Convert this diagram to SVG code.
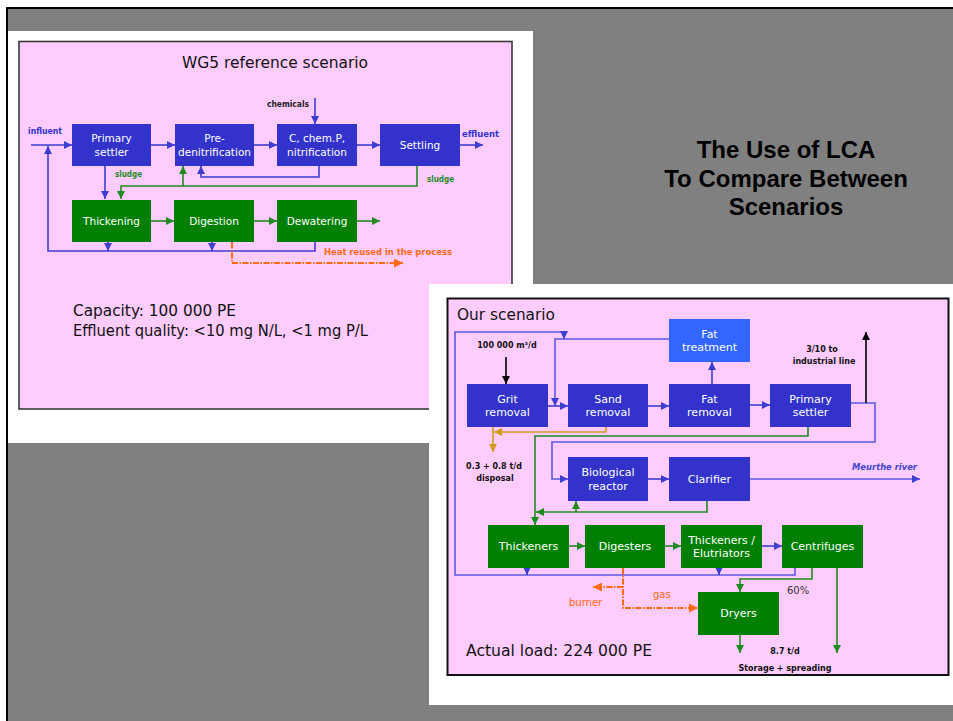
<svg xmlns="http://www.w3.org/2000/svg" width="953" height="721" viewBox="0 0 953 721">
  <style>
    .blk{fill:#3333cc}
    .fat{fill:#3366ff}
    .grn{fill:#007f00}
    .bt{font-family:"DejaVu Sans",sans-serif;fill:#ffffff;text-anchor:middle}
    .b1{font-size:10.5px}
    .b2{font-size:11px}
    .sm{font-family:"DejaVu Sans",sans-serif;font-size:8px;font-weight:bold}
    .big{font-family:"DejaVu Sans",sans-serif;fill:#111111}
    .c{fill:none;stroke-width:1.6}
    .cb{stroke:#3d3dcf}
    .cl{stroke:#5a5adc}
    .cg{stroke:#1f8a1f}
    .co{stroke:#ff6a13;stroke-width:2;stroke-dasharray:6 1.5 1.5 1.5}
    .ck{stroke:#000000}
    .cy{stroke:#d19a1a}
  </style>
  <defs>
    <marker id="ab" viewBox="0 0 10 10" refX="10" refY="5" markerWidth="8" markerHeight="8" markerUnits="userSpaceOnUse" orient="auto"><path d="M0,0 L10,5 L0,10z" fill="#3d3dcf"/></marker>
    <marker id="ag" viewBox="0 0 10 10" refX="10" refY="5" markerWidth="8" markerHeight="8" markerUnits="userSpaceOnUse" orient="auto"><path d="M0,0 L10,5 L0,10z" fill="#1f8a1f"/></marker>
    <marker id="ao" viewBox="0 0 10 10" refX="10" refY="5" markerWidth="9" markerHeight="9" markerUnits="userSpaceOnUse" orient="auto"><path d="M0,0 L10,5 L0,10z" fill="#ff6a13"/></marker>
    <marker id="ak" viewBox="0 0 10 10" refX="10" refY="5" markerWidth="8" markerHeight="8" markerUnits="userSpaceOnUse" orient="auto"><path d="M0,0 L10,5 L0,10z" fill="#000000"/></marker>
    <marker id="ay" viewBox="0 0 10 10" refX="10" refY="5" markerWidth="8" markerHeight="8" markerUnits="userSpaceOnUse" orient="auto"><path d="M0,0 L10,5 L0,10z" fill="#d19a1a"/></marker>
  </defs>

  <!-- slide background -->
  <rect x="0" y="0" width="953" height="721" fill="#ffffff"/>
  <rect x="7" y="8" width="950" height="720" fill="#808080" stroke="#000000" stroke-width="2"/>

  <!-- heading -->
  <g id="heading" font-family="'Liberation Sans',Arial,sans-serif" font-weight="bold" font-size="24" text-anchor="middle" fill="#000000">
    <text x="786" y="158">The Use of LCA</text>
    <text x="786" y="187">To Compare Between</text>
    <text x="786" y="215">Scenarios</text>
  </g>

  <!-- ===== reference scenario panel ===== -->
  <g id="panel-ref">
    <rect x="8" y="31" width="525" height="412" fill="#ffffff"/>
    <rect x="19" y="41.5" width="493" height="367.5" fill="#ffccff" stroke="#3a3a3a" stroke-width="1.6"/>
    <text class="big" x="182" y="68" font-size="16" textLength="186" lengthAdjust="spacingAndGlyphs">WG5 reference scenario</text>
    <text class="big" x="73" y="316" font-size="15.5" textLength="163" lengthAdjust="spacingAndGlyphs">Capacity: 100 000 PE</text>
    <text class="big" x="73" y="336" font-size="15.5" textLength="295" lengthAdjust="spacingAndGlyphs">Effluent quality: &lt;10 mg N/L, &lt;1 mg P/L</text>
    <text class="sm" x="28" y="134" fill="#3333cc" textLength="34" lengthAdjust="spacingAndGlyphs">influent</text>
    <text class="sm" x="462" y="137" fill="#3333cc" textLength="37" lengthAdjust="spacingAndGlyphs">effluent</text>
    <text class="sm" x="267" y="107" fill="#222222" textLength="42" lengthAdjust="spacingAndGlyphs">chemicals</text>
    <text class="sm" x="115" y="177" fill="#1f8a1f" textLength="27" lengthAdjust="spacingAndGlyphs">sludge</text>
    <text class="sm" x="427" y="182" fill="#1f8a1f" textLength="27" lengthAdjust="spacingAndGlyphs">sludge</text>
    <text class="sm" x="324" y="255" fill="#ff6a13" textLength="128" lengthAdjust="spacingAndGlyphs">Heat reused in the process</text>
  </g>

  <g id="ref-connectors">
    <path class="c cb" d="M31,145 H72" marker-end="url(#ab)"/>
    <path class="c cb" d="M315,242 V251 H48 V146" marker-end="url(#ab)"/>
    <path class="c cb" d="M108,242 V251" marker-end="url(#ab)"/>
    <path class="c cb" d="M212,242 V251" marker-end="url(#ab)"/>
    <path class="c cb" d="M151,145 H175" marker-end="url(#ab)"/>
    <path class="c cb" d="M254,145 H277" marker-end="url(#ab)"/>
    <path class="c cb" d="M357,145 H380" marker-end="url(#ab)"/>
    <path class="c cb" d="M460,145 H483" marker-end="url(#ab)"/>
    <path class="c cb" d="M315,98 V124" marker-end="url(#ab)"/>
    <path class="c cb" d="M319,166 V177 H201 V166" marker-end="url(#ab)"/>
    <path class="c cb" d="M105,166 V199" marker-end="url(#ab)"/>
    <path class="c cg" d="M417,166 V186 H121 V199" marker-end="url(#ag)"/>
    <path class="c cg" d="M183,186 V166" marker-end="url(#ag)"/>
    <path class="c cg" d="M151,221 H174" marker-end="url(#ag)"/>
    <path class="c cg" d="M254,221 H277" marker-end="url(#ag)"/>
    <path class="c cg" d="M357,221 H380" marker-end="url(#ag)"/>
    <path class="c co" d="M232,242 V263 H403" marker-end="url(#ao)"/>
  </g>

  <g id="primary-settler-ref"><rect class="blk" x="72" y="124" width="79" height="42"/><text class="bt b1" x="111.5" y="142">Primary</text><text class="bt b1" x="111.5" y="155.5">settler</text></g>
  <g id="pre-denitrification"><rect class="blk" x="175" y="124" width="79" height="42"/><text class="bt b1" x="214.5" y="142">Pre-</text><text class="bt b1" x="214.5" y="155.5">denitrification</text></g>
  <g id="nitrification"><rect class="blk" x="277" y="124" width="80" height="42"/><text class="bt b1" x="317" y="142">C, chem.P,</text><text class="bt b1" x="317" y="155.5">nitrification</text></g>
  <g id="settling"><rect class="blk" x="380" y="124" width="80" height="42"/><text class="bt b1" x="420" y="149">Settling</text></g>
  <g id="thickening"><rect class="grn" x="72" y="200" width="79" height="42"/><text class="bt b1" x="111.5" y="225">Thickening</text></g>
  <g id="digestion"><rect class="grn" x="174" y="200" width="80" height="42"/><text class="bt b1" x="214" y="225">Digestion</text></g>
  <g id="dewatering"><rect class="grn" x="277" y="200" width="80" height="42"/><text class="bt b1" x="317" y="225">Dewatering</text></g>

  <!-- ===== our scenario panel ===== -->
  <g id="panel-ours">
    <rect x="429" y="284" width="524" height="421" fill="#ffffff"/>
    <rect x="447.5" y="298.5" width="501" height="376.5" fill="#ffccff" stroke="#111111" stroke-width="2"/>
    <text class="big" x="457" y="320" font-size="16" textLength="98" lengthAdjust="spacingAndGlyphs">Our scenario</text>
    <text class="big" x="466" y="656" font-size="16" textLength="186" lengthAdjust="spacingAndGlyphs">Actual load: 224 000 PE</text>
    <g class="sm" fill="#111111" text-anchor="middle">
      <text x="507" y="348">100 000 m³/d</text>
      <text x="822" y="352">3/10 to</text>
      <text x="824" y="364">industrial line</text>
      <text x="494" y="469">0.3 + 0.8 t/d</text>
      <text x="495" y="481">disposal</text>
      <text x="785" y="654">8.7 t/d</text>
      <text x="785" y="671">Storage + spreading</text>
    </g>
    <text x="787" y="594" font-family="'DejaVu Sans',sans-serif" font-size="10" fill="#333333">60%</text>
    <text x="653" y="598" font-family="'DejaVu Sans',sans-serif" font-size="10" fill="#ff6a13">gas</text>
    <text x="569" y="606" font-family="'DejaVu Sans',sans-serif" font-size="10" fill="#ff6a13">burner</text>
    <text x="852" y="470" font-family="'DejaVu Sans',sans-serif" font-size="9" font-style="italic" font-weight="bold" fill="#4444cc" textLength="65" lengthAdjust="spacingAndGlyphs">Meurthe river</text>
  </g>

  <g id="our-connectors">
    <path class="c cl" d="M795,568 V575 H455 V332 H564 V339" marker-end="url(#ab)"/>
    <path class="c cb" d="M527,558 V575" marker-end="url(#ab)"/>
    <path class="c cb" d="M719,559 V575" marker-end="url(#ab)"/>
    <path class="c cl" d="M669,339 H555 V406" marker-end="url(#ab)"/>
    <path class="c cb" d="M548,406 H568" marker-end="url(#ab)"/>
    <path class="c cb" d="M648,406 H669" marker-end="url(#ab)"/>
    <path class="c cb" d="M750,405 H770" marker-end="url(#ab)"/>
    <path class="c cb" d="M712,384 V362" marker-end="url(#ab)"/>
    <path class="c cl" d="M851,403 H875 V442 H552 V479 H568" marker-end="url(#ab)"/>
    <path class="c cb" d="M648,479 H669" marker-end="url(#ab)"/>
    <path class="c cl" d="M750,479 H920" marker-end="url(#ab)"/>
    <path class="c cb" d="M762,546 H782" marker-end="url(#ab)"/>
    <path class="c ck" d="M506,357 V384" marker-end="url(#ak)"/>
    <path class="c ck" d="M866,403 V332" marker-end="url(#ak)"/>
    <path class="c cy" d="M606,427 V432 H494" marker-end="url(#ay)"/>
    <path class="c cy" d="M493,427 V452" marker-end="url(#ay)"/>
    <path class="c cg" d="M808,427 V436 H535 V525" marker-end="url(#ag)"/>
    <path class="c cg" d="M707,501 V512 H536" marker-end="url(#ag)"/>
    <path class="c cg" d="M576,512 V501" marker-end="url(#ag)"/>
    <path class="c cg" d="M569,546 H585" marker-end="url(#ag)"/>
    <path class="c cg" d="M665,546 H681" marker-end="url(#ag)"/>
    <path class="c cg" d="M812,568 V579 H740 V592" marker-end="url(#ag)"/>
    <path class="c cg" d="M837,568 V653" marker-end="url(#ag)"/>
    <path class="c cg" d="M740,635 V653" marker-end="url(#ag)"/>
    <path class="c co" d="M623,568 V608 H698" marker-end="url(#ao)"/>
    <path class="c co" d="M623,587 H593" marker-end="url(#ao)"/>
  </g>

  <g id="grit-removal"><rect class="blk" x="467" y="384" width="81" height="43"/><text class="bt b2" x="507.5" y="402.5">Grit</text><text class="bt b2" x="507.5" y="416">removal</text></g>
  <g id="sand-removal"><rect class="blk" x="568" y="384" width="80" height="43"/><text class="bt b2" x="608" y="402.5">Sand</text><text class="bt b2" x="608" y="416">removal</text></g>
  <g id="fat-removal"><rect class="blk" x="669" y="384" width="81" height="43"/><text class="bt b2" x="709.5" y="402.5">Fat</text><text class="bt b2" x="709.5" y="416">removal</text></g>
  <g id="primary-settler"><rect class="blk" x="770" y="384" width="81" height="43"/><text class="bt b2" x="810.5" y="402.5">Primary</text><text class="bt b2" x="810.5" y="416">settler</text></g>
  <g id="fat-treatment"><rect class="fat" x="669" y="319" width="81" height="43"/><text class="bt b2" x="709.5" y="337.5">Fat</text><text class="bt b2" x="709.5" y="351">treatment</text></g>
  <g id="biological-reactor"><rect class="blk" x="568" y="457" width="80" height="44"/><text class="bt b2" x="608" y="476">Biological</text><text class="bt b2" x="608" y="489.5">reactor</text></g>
  <g id="clarifier"><rect class="blk" x="669" y="457" width="81" height="44"/><text class="bt b2" x="709.5" y="483">Clarifier</text></g>
  <g id="thickeners"><rect class="grn" x="488" y="525" width="81" height="43"/><text class="bt b2" x="528.5" y="550">Thickeners</text></g>
  <g id="digesters"><rect class="grn" x="585" y="525" width="80" height="43"/><text class="bt b2" x="625" y="550">Digesters</text></g>
  <g id="thickeners-elutriators"><rect class="grn" x="681" y="525" width="81" height="43"/><text class="bt b2" x="721.5" y="543.5">Thickeners /</text><text class="bt b2" x="721.5" y="557">Elutriators</text></g>
  <g id="centrifuges"><rect class="grn" x="782" y="525" width="81" height="43"/><text class="bt b2" x="822.5" y="550">Centrifuges</text></g>
  <g id="dryers"><rect class="grn" x="698" y="592" width="81" height="43"/><text class="bt b2" x="738.5" y="617">Dryers</text></g>
</svg>
